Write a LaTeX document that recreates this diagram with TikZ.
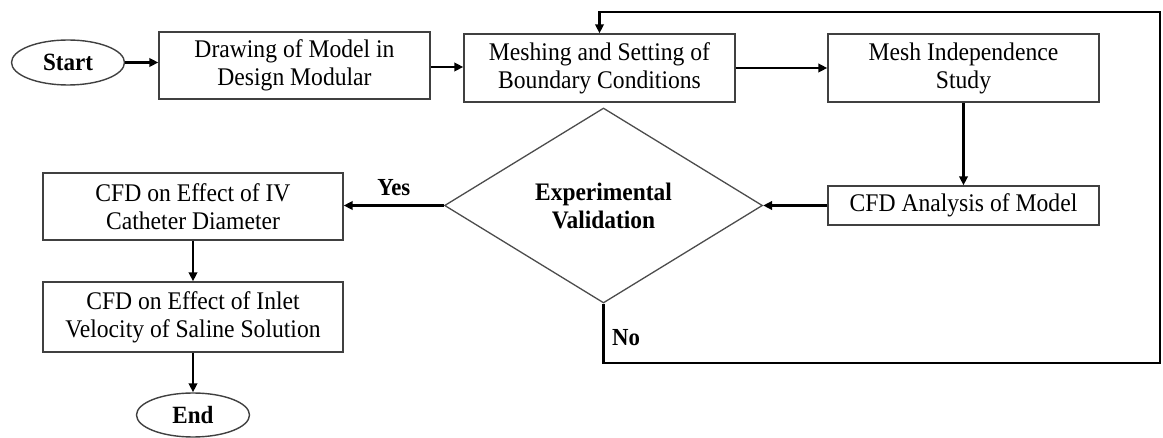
\documentclass[tikz,border=0pt]{standalone}
\usepackage{fontspec}
\setmainfont{Liberation Serif}[FakeStretch=0.93]
\usetikzlibrary{shapes.geometric,arrows.meta}
\begin{document}
\begin{tikzpicture}[x=1pt,y=1pt,
  every node/.style={font=\fontsize{25.4}{28}\selectfont, align=center, inner sep=0pt},
  procbox/.style={draw=black!75, line width=1.4pt, rectangle, minimum width=271pt},
  termbox/.style={draw=black!75, line width=1.4pt, ellipse, minimum width=113pt, minimum height=45pt, font=\fontsize{24.8}{28}\selectfont\bfseries},
  decbox/.style={draw=black!70, line width=1.3pt, diamond, aspect=1.6, minimum width=318pt, minimum height=195pt, font=\fontsize{25.2}{28}\selectfont\bfseries},
  conn/.style={line width=2.6pt, draw=black, -{Triangle[length=9pt,width=8.5pt]}},
  lab/.style={font=\fontsize{24.5}{28}\selectfont\bfseries}
]
\useasboundingbox (0,0) rectangle (1163,-438);
\node[termbox] (start) at (68,-62.5) {Start};
\node[procbox, minimum height=67pt] (b1) at (294.5,-65.5) {Drawing of Model in\\Design Modular};
\node[procbox, minimum height=68pt] (b2) at (599.5,-68) {Meshing and Setting of\\Boundary Conditions};
\node[procbox, minimum height=68pt] (b3) at (963.5,-68) {Mesh Independence\\Study};
\node[procbox, minimum height=39pt] (b4) at (963.5,-205.5) {CFD Analysis of Model};
\node[decbox] (dia) at (603.5,-205.5) {Experimental\\Validation};
\node[procbox, minimum width=300pt, minimum height=67pt] (c1) at (193,-206.5) {CFD on Effect of IV\\Catheter Diameter};
\node[procbox, minimum width=300pt, minimum height=70pt] (c2) at (193,-317) {CFD on Effect of Inlet\\Velocity of Saline Solution};
\node[termbox, minimum height=44pt] (end) at (193,-415) {End};
\coordinate (lb) at (603.5,-363);
\coordinate (rt) at (1160,-12);

\draw[conn] (start.east) -- (start.east -| b1.west);
\draw[conn] ([yshift=-1.5pt]b1.east) -- ([yshift=-1.5pt]b1.east -| b2.west);
\draw[conn] (b2.east) -- (b3.west);
\draw[conn] (b3.south) -- (b4.north);
\draw[conn] (b4.west) -- (dia.east);
\draw[conn] (dia.west) -- (dia.west -| c1.east) node[lab, midway, above=8pt] (yes) {Yes};
\draw[conn] (c1.south) -- (c2.north);
\draw[conn] (c2.south) -- (end.north);
\draw[conn] (dia.south) -- (lb) -| (rt) -| (b2.north);
\node[lab, anchor=west] (no) at (612,-338) {No};
\end{tikzpicture}
\end{document}
